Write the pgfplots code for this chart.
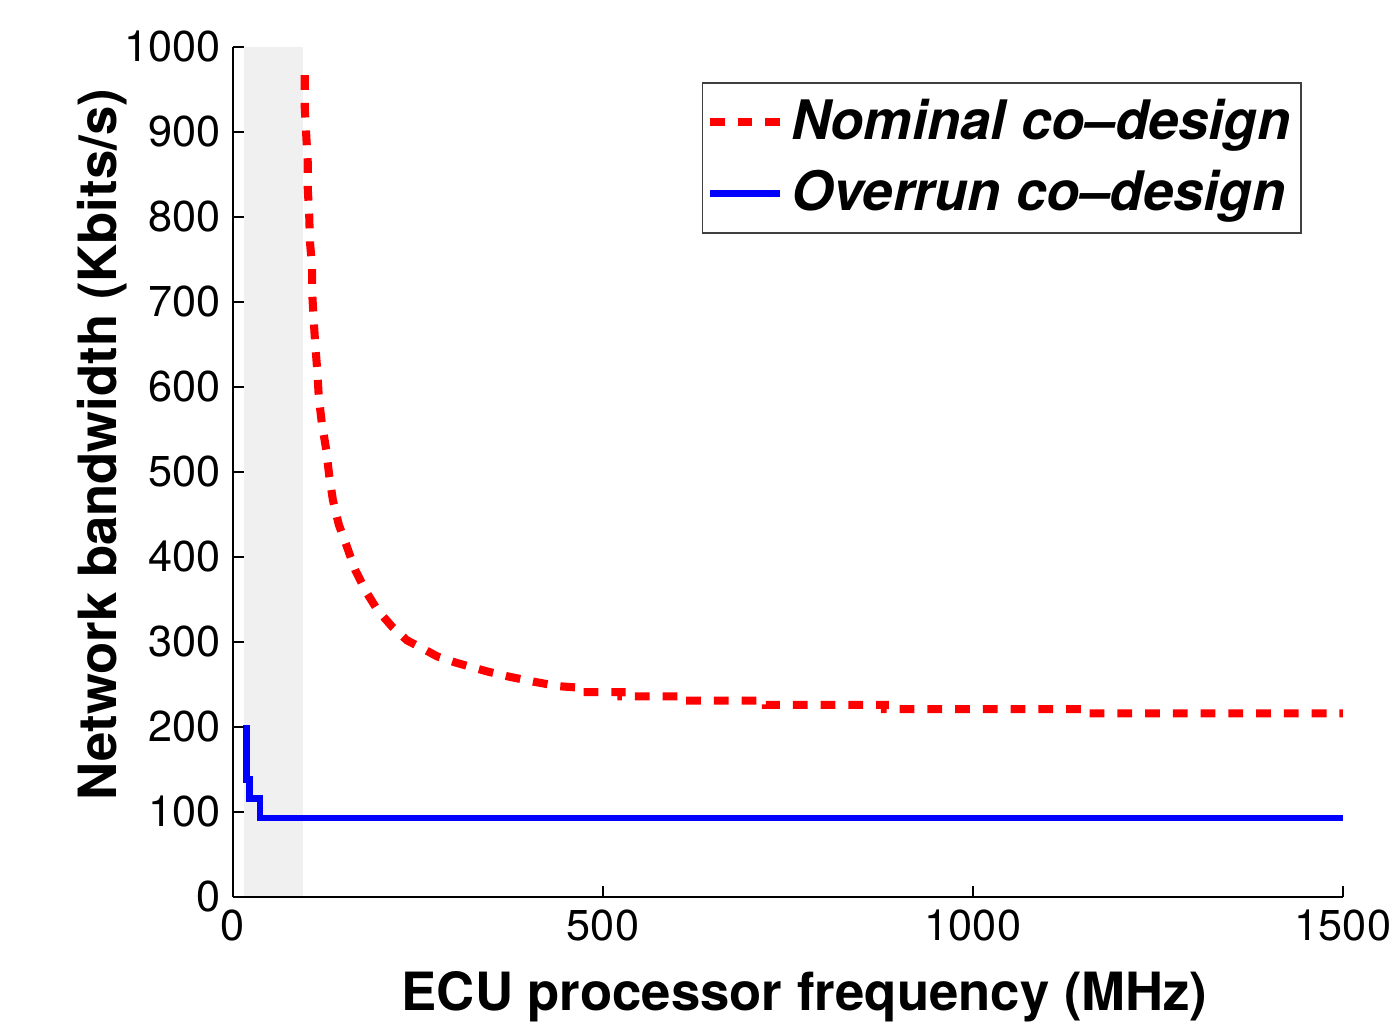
\documentclass[border=0pt]{standalone}
\usepackage{fontspec}
\setmainfont{TeX Gyre Heros}
\usepackage{pgfplots}
\pgfplotsset{compat=1.18}
\definecolor{bandgray}{HTML}{F0F0F0}
\definecolor{nomred}{HTML}{FF0000}
\definecolor{ovrblue}{HTML}{0000FF}

\begin{document}
\begin{tikzpicture}
\begin{axis}[
  scale only axis,
  width=316.0pt, height=241.98pt,
  xmin=0, xmax=1500, ymin=0, ymax=1000,
  axis lines=left,
  axis line style={-, black, line width=0.45pt},
  every inner x axis line/.append style={-},
  every inner y axis line/.append style={-},
  axis on top,
  tick align=inside,
  major tick length=3.2pt,
  tick style={black, line width=0.45pt},
  xtick={0,500,1000,1500},
  ytick={0,100,...,1000},
  /pgf/number format/assume math mode=true,
  /pgf/number format/1000 sep={},
  ticklabel style={font=\fontsize{12.3}{14}\selectfont},
  every axis x label/.style={at={(rel axis cs:0.515,0)}, anchor=base,
    yshift=-32.2pt, font=\bfseries\fontsize{15}{18}\selectfont},
  every axis y label/.style={at={(rel axis cs:0,0.532)}, xshift=-33.3pt,
    rotate=90, anchor=base, font=\bfseries\fontsize{15}{18}\selectfont},
  xlabel={ECU processor frequency (MHz)},
  ylabel={Network bandwidth (Kbits/s)},
  legend style={at={(rel axis cs:0.963,0.959)}, anchor=north east,
    draw=black!75, line width=0.5pt, fill=white,
    font=\bfseries\itshape\fontsize{15.5}{18}\selectfont,
    inner xsep=1pt, inner ysep=2.8pt, row sep=3.2pt},
  legend cell align=left,
  legend image code/.code={\draw[#1] (0pt,0pt) -- (20pt,0pt);},
]
% shaded frequency range
\addplot[draw=none, fill=bandgray, forget plot]
  coordinates {(15,0) (15,1000) (95,1000) (95,0)} -- cycle;

\addplot[nomred, line width=2.3pt, dash pattern=on 4.2pt off 3.7pt] coordinates {
 (97,967) (97,928) (99,896) (101,865) (101,834) (103,802) (104,771) (107,740)
 (107,711) (109,680) (111,652) (114,618) (116,587) (120,558) (126,526) (130,496)
 (135,467) (143,438) (154,412) (165,385) (180,359) (195,338) (215,318) (235,302)
 (257,292) (276,283) (300,276) (320,271) (345,265) (374,259) (408,253) (440,248)
 (472,246) (472,241) (525,241) (525,236) (612,236) (612,231) (720,231) (720,226)
 (881,226) (881,221) (1147,221) (1147,216) (1500,216)};
\addlegendentry{Nominal co--design}

\addplot[ovrblue, line width=1.9pt] coordinates {
 (18.5,202) (18.5,138) (22,138) (22,116) (36.5,116) (36.5,93) (300,93) (1500,93)};
\addlegendentry{Overrun co--design}
\end{axis}
\pgfresetboundingbox
\path[use as bounding box] (-66.33pt,-35.87pt) rectangle (330.52pt,255.36pt);
\end{tikzpicture}
\end{document}
